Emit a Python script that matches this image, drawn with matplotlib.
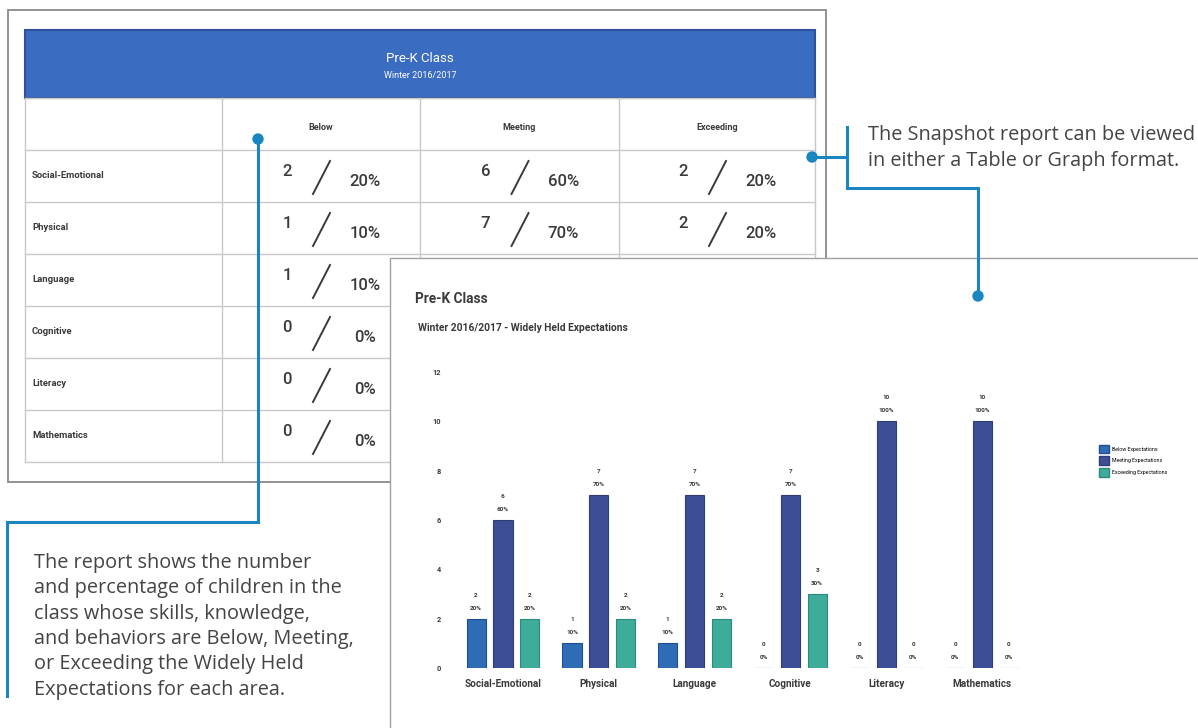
import matplotlib
matplotlib.use("Agg")
import matplotlib.pyplot as plt
from matplotlib.patches import Rectangle, Patch, Circle
import numpy as np

plt.rcParams['font.family'] = ['Roboto', 'DejaVu Sans']

# ---------------- data ----------------
categories = ["Social-Emotional", "Physical", "Language", "Cognitive", "Literacy", "Mathematics"]
below = [2, 1, 1, 0, 0, 0]
meeting = [6, 7, 7, 7, 10, 10]
exceeding = [2, 2, 2, 3, 0, 0]
below_pct = [20, 10, 10, 0, 0, 0]
meeting_pct = [60, 70, 70, 70, 100, 100]
exceeding_pct = [20, 20, 20, 30, 0, 0]
table_columns = ["Below", "Meeting", "Exceeding"]
series_labels = ["Below Expectations", "Meeting Expectations", "Exceeding Expectations"]
y_ticks = [0, 2, 4, 6, 8, 10, 12]

c_below = "#2f6cb6"
c_meet = "#3d4e95"
c_exc = "#3eab9b"
c_line = "#1a86c0"
c_text = "#3a3a3a"
callout_font = ["Open Sans", "DejaVu Sans"]

W, H = 1198, 728
PANEL_X, PANEL_Y = 390, 258   # top-left corner of the overlapping graph panel

fig = plt.figure(figsize=(W / 100, H / 100), dpi=100)
fig.patch.set_facecolor("white")

bg = fig.add_axes([0, 0, 1, 1])
bg.set_xlim(0, W)
bg.set_ylim(H, 0)
bg.axis("off")
bg.set_zorder(0)


def visible(px, py):
    return not (px > PANEL_X - 25 and py > PANEL_Y - 8)


# ---------------- table panel ----------------
bg.add_patch(Rectangle((8, 10), 818, 472, facecolor="white", edgecolor="#8a8a8a", lw=1.3, zorder=1))
bg.add_patch(Rectangle((25, 30), 790, 68, facecolor="#3a6cc2", edgecolor="#2d519c", lw=1.5, zorder=1))
bg.text(420, 58, "Pre-K Class", color="white", fontsize=9.5, ha="center", va="center")
bg.text(420, 75, "Winter 2016/2017", color="white", fontsize=6.5, ha="center", va="center")

col_edges = [25, 222, 420, 619, 815]
row_top = 150
row_h = 52
n = len(categories)
grid_c = "#c8c8c8"
for xe in col_edges:
    bg.plot([xe, xe], [98, row_top + n * row_h], color=grid_c, lw=1)
for i in range(n + 1):
    yy = row_top + i * row_h
    bg.plot([25, 815], [yy, yy], color=grid_c, lw=1)
bg.plot([25, 815], [98, 98], color=grid_c, lw=1)

for j, name in enumerate(table_columns):
    cx = (col_edges[j + 1] + col_edges[j + 2]) / 2
    bg.text(cx, 127, name, fontsize=6.5, color=c_text, ha="center", va="center", fontweight="bold")

table_counts = [below, meeting, exceeding]
table_pcts = [below_pct, meeting_pct, exceeding_pct]
for i, cat in enumerate(categories):
    cy = row_top + i * row_h + row_h / 2
    bg.text(32, cy, cat, fontsize=6.8, color=c_text, ha="left", va="center", fontweight="bold")
    for j in range(3):
        cx = (col_edges[j + 1] + col_edges[j + 2]) / 2
        if visible(cx - 40, cy):
            bg.text(cx - 34, cy - 5, str(table_counts[j][i]), fontsize=12, color=c_text,
                    ha="center", va="center", fontweight="medium")
            bg.plot([cx - 8, cx + 9], [cy + 18, cy - 15], color=c_text, lw=1.4)
            bg.text(cx + 44, cy + 6, f"{table_pcts[j][i]}%", fontsize=12, color=c_text,
                    ha="center", va="center", fontweight="medium")

# ---------------- callouts ----------------
bg.plot([258, 258, 7, 7], [139, 522, 522, 696], color=c_line, lw=2.2,
        solid_joinstyle="miter", zorder=12)
bg.add_patch(Circle((258, 139), 5, color=c_line, zorder=12))
bg.plot([812, 847], [157, 157], color=c_line, lw=2.2, zorder=12)
bg.plot([847, 847], [127, 188], color=c_line, lw=2.2, zorder=12)
bg.plot([847, 978, 978], [188, 188, 296], color=c_line, lw=2.2, solid_joinstyle="miter", zorder=12)
bg.add_patch(Circle((812, 157), 5, color=c_line, zorder=12))
bg.add_patch(Circle((978, 296), 5, color=c_line, zorder=12))

bg.text(868, 135, "The Snapshot report can be viewed", fontsize=14.3, color="#444444",
        ha="left", va="center", family=callout_font)
bg.text(868, 161, "in either a Table or Graph format.", fontsize=14.3, color="#444444",
        ha="left", va="center", family=callout_font)

left_lines = ["The report shows the number",
              "and percentage of children in the",
              "class whose skills, knowledge,",
              "and behaviors are Below, Meeting,",
              "or Exceeding the Widely Held",
              "Expectations for each area."]
for k, line in enumerate(left_lines):
    bg.text(34, 563 + k * 25.3, line, fontsize=14.3, color="#444444", ha="left", va="center",
            family=callout_font)

# ---------------- chart panel ----------------
bg.add_patch(Rectangle((PANEL_X, PANEL_Y), 820, 480, facecolor="white", edgecolor="#a0a0a0",
                       lw=1.0, zorder=10))
bg.text(415, 299, "Pre-K Class", fontsize=9.8, color=c_text, ha="left", va="center",
        fontweight="bold", zorder=11)
bg.text(418, 328, "Winter 2016/2017 - Widely Held Expectations", fontsize=7.4, color=c_text,
        ha="left", va="center", fontweight="bold", zorder=11)

ax_l, ax_r, ax_t, ax_b = 455, 1030, 372, 668
ax = fig.add_axes([ax_l / W, 1 - ax_b / H, (ax_r - ax_l) / W, (ax_b - ax_t) / H])
ax.set_zorder(1)
ax.patch.set_alpha(0)

x = np.arange(len(categories))
bw = 0.2
off = 0.28
series = [(below, below_pct, c_below, "#1f4f8e", -off),
          (meeting, meeting_pct, c_meet, "#2f3c78", 0),
          (exceeding, exceeding_pct, c_exc, "#2c8a7d", off)]
for vals, pcts, col, ec, o in series:
    ax.bar(x + o, vals, width=bw, color=col, edgecolor=ec, lw=0.8)
    for xi, v, p in zip(x + o, vals, pcts):
        ax.text(xi, v + 0.32, f"{p}%", fontsize=4.6, ha="center", va="bottom",
                color=c_text, fontweight="bold")
        ax.text(xi, v + 0.85, f"{v}", fontsize=4.6, ha="center", va="bottom",
                color=c_text, fontweight="bold")

ax.set_xlim(-0.5, 5.5)
ax.set_ylim(0, 12)
ax.set_yticks(y_ticks)
ax.set_yticklabels([str(t) for t in y_ticks], fontsize=5.3, color=c_text, fontweight="bold")
ax.set_xticks(x)
ax.set_xticklabels(categories, fontsize=7.2, color=c_text, fontweight="bold")
ax.tick_params(axis="both", length=0)
ax.tick_params(axis="y", pad=10)
ax.tick_params(axis="x", pad=8)
for s in ax.spines.values():
    s.set_visible(False)

handles = [Patch(facecolor=c_below, edgecolor="#1f4f8e"),
           Patch(facecolor=c_meet, edgecolor="#2f3c78"),
           Patch(facecolor=c_exc, edgecolor="#2c8a7d")]
fig.legend(handles, series_labels, loc="upper left", bbox_to_anchor=(1096 / W, 1 - 442 / H),
           frameon=False, fontsize=3.8, handlelength=1.9, handleheight=2.2,
           handletextpad=0.6, labelspacing=0.55, borderpad=0)

fig.savefig("out.png", dpi=100, facecolor="white")
